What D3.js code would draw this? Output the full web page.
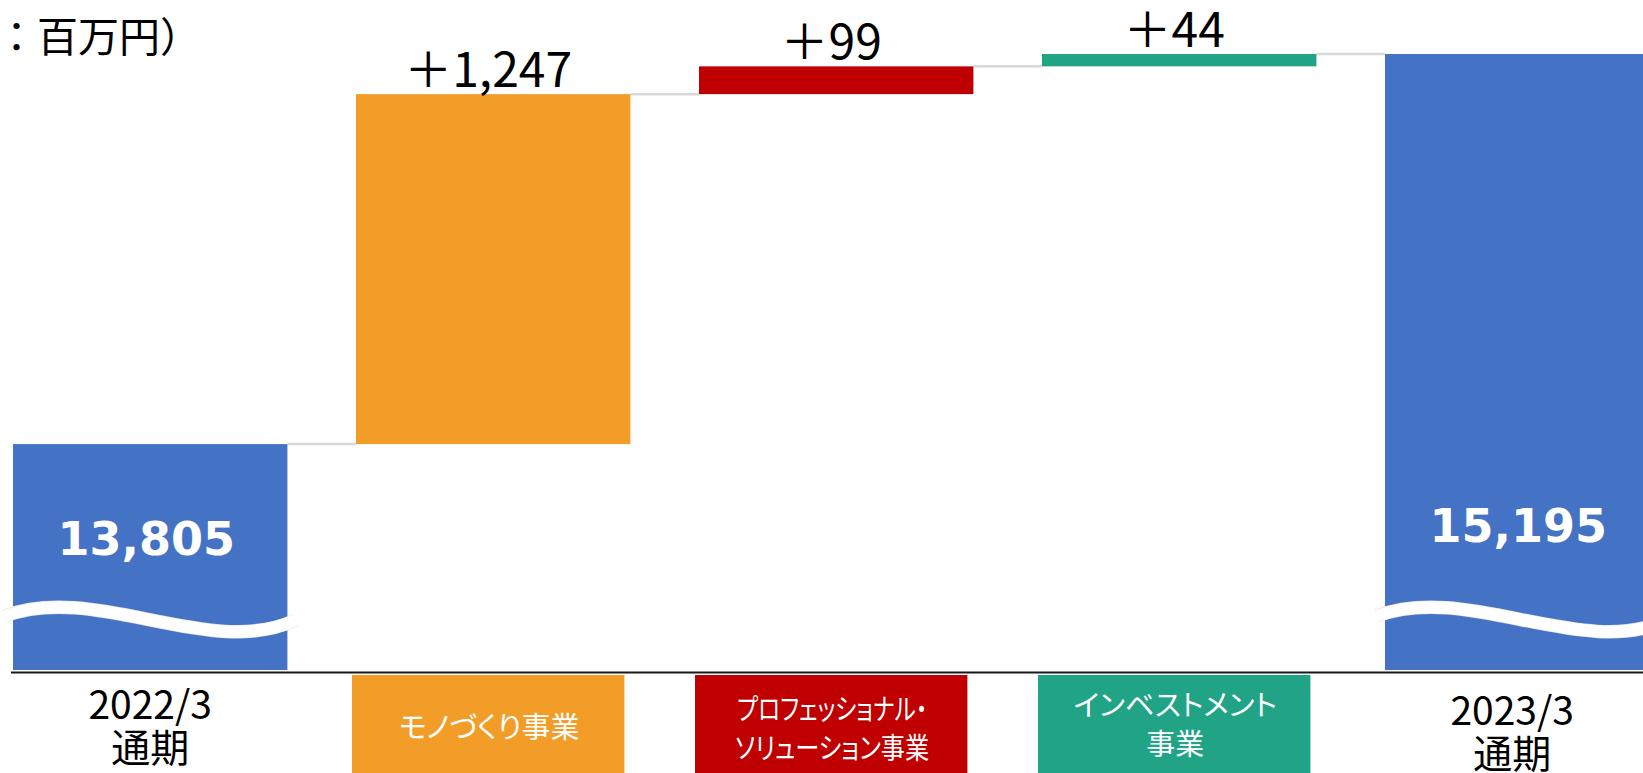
<!DOCTYPE html>
<html lang="ja">
<head>
<meta charset="utf-8">
<script src="https://cdn.jsdelivr.net/npm/d3@7"></script>
<style>
  html, body { margin: 0; padding: 0; background: #fff; overflow: hidden; }
  svg { display: block; }
  .jp { font-family: "Noto Sans CJK JP", "Noto Sans", sans-serif; }
</style>
</head>
<body>
<div id="chart"></div>
<script>
// Waterfall: 2022/3 full year -> 2023/3 full year, by segment (百万円)
const categories = ["2022/3 通期", "モノづくり事業", "プロフェッショナル・ソリューション事業", "インベストメント事業", "2023/3 通期"];
const labelLines = [["2022/3", "通期"], ["モノづくり事業"], ["プロフェッショナル・", "ソリューション事業"], ["インベストメント", "事業"], ["2023/3", "通期"]];
const kinds = ["total", "delta", "delta", "delta", "total"];
const values = [13805, 1247, 99, 44, 15195];
const valueLabels = ["13,805", "＋1,247", "＋99", "＋44", "15,195"];
const axisFloor = 13000;   // axis is broken (wave) below the totals
const unitLabel = "（単位：百万円）";

const colors = ["#4472C4", "#F29D28", "#C00000", "#21A385", "#4472C4"];

const W = 1643, H = 773;
const baseY = 670;       // bottom of the bars
const axisY = 672.5;

const svg = d3.select("#chart").append("svg")
  .attr("width", W).attr("height", H).attr("viewBox", `0 0 ${W} ${H}`);

const x = d3.scaleBand().domain(categories).range([-21.3, 1693.7])
  .paddingInner(0.2).paddingOuter(0.1);
const y = d3.scaleLinear().domain([axisFloor, 15195]).range([baseY, 54]);
const bw = x.bandwidth();

// running totals -> bar extents
let cum = 0;
const rows = categories.map((c, i) => {
  let lo, hi;
  if (kinds[i] === "total") { lo = axisFloor; hi = values[i]; cum = values[i]; }
  else { lo = cum; hi = cum + values[i]; cum = hi; }
  return { cat: c, lo, hi, i, kind: kinds[i] };
});

// connectors
const conn = svg.append("g");
rows.slice(0, -1).forEach((d, i) => {
  const yy = y(d.hi);
  conn.append("line")
    .attr("x1", x(d.cat) + bw).attr("x2", x(rows[i + 1].cat))
    .attr("y1", yy).attr("y2", yy)
    .attr("stroke", "#d9d9d9").attr("stroke-width", 2.5);
});

// bars
svg.append("g").selectAll("rect").data(rows).join("rect")
  .attr("x", d => x(d.cat)).attr("width", bw)
  .attr("y", d => y(d.hi)).attr("height", d => y(d.lo) - y(d.hi))
  .attr("fill", d => colors[d.i]);

// axis-break waves on the total bars
const waveY = y(axisFloor) - 55;
rows.filter(d => d.kind === "total").forEach(d => {
  const x0 = x(d.cat);
  const p = d3.path();
  p.moveTo(x0 - 0.03 * bw, waveY + 1);
  p.bezierCurveTo(x0 + 0.3 * bw, waveY - 33, x0 + 0.72 * bw, waveY + 45, x0 + 1.03 * bw, waveY + 5);
  svg.append("path").attr("d", p.toString()).attr("fill", "none")
    .attr("stroke", "#e6e6e6").attr("stroke-width", 13.5);
  svg.append("path").attr("d", p.toString()).attr("fill", "none")
    .attr("stroke", "#fff").attr("stroke-width", 12);
});

// total value labels (inside the bars)
const totalDy = { 0: 60, 4: 73 };
rows.filter(d => d.kind === "total").forEach(d => {
  svg.append("text")
    .attr("x", x(d.cat) + bw / 2 - 4).attr("y", waveY - totalDy[d.i])
    .attr("text-anchor", "middle")
    .attr("font-family", "DejaVu Sans, Verdana, sans-serif")
    .attr("font-weight", "bold").attr("font-size", 46)
    .attr("fill", "#fff")
    .text(valueLabels[d.i]);
});

// delta labels (above the bars)
rows.filter(d => d.kind === "delta").forEach(d => {
  svg.append("text").attr("class", "jp")
    .attr("x", x(d.cat) + bw / 2 - 5).attr("y", y(d.hi) - 7)
    .attr("text-anchor", "middle")
    .attr("font-size", 48).attr("fill", "#000")
    .text(valueLabels[d.i]);
});

// axis line
svg.append("line")
  .attr("x1", x(categories[0]) - 2).attr("x2", W)
  .attr("y1", axisY).attr("y2", axisY)
  .attr("stroke", "#1a1a1a").attr("stroke-width", 2);

// category labels
rows.forEach(d => {
  const cx = x(d.cat) + bw / 2;
  const lines = labelLines[d.i];
  if (d.kind === "total") {
    const off = d.i === 0 ? 0 : 6;
    const t = svg.append("text").attr("class", "jp")
      .attr("text-anchor", "middle").attr("font-size", 39).attr("fill", "#000");
    lines.forEach((ln, k) => {
      t.append("tspan").attr("x", cx - (d.i === 0 ? 0 : 10)).attr("y", 719 + off + k * 43).text(ln);
    });
  } else {
    svg.append("rect")
      .attr("x", x(d.cat) - 4).attr("width", bw - 2)
      .attr("y", axisY + 2.5).attr("height", H)
      .attr("fill", colors[d.i]);
    const t = svg.append("text").attr("class", "jp")
      .attr("text-anchor", "middle").attr("font-size", 29).attr("fill", "#fff")
      .style("font-feature-settings", '"palt"');
    const top = lines.length === 1 ? 738 : (d.i === 2 ? 720 : 716);
    lines.forEach((ln, k) => {
      const s = t.append("tspan").attr("x", cx - 4).attr("y", top + k * 39).text(ln);
      // the narrow UI face of the original: squeeze the long katakana lines
      if (d.i === 2) s.attr("textLength", k === 0 ? 190 : 194).attr("lengthAdjust", "spacingAndGlyphs");
    });
  }
});

// unit label, partially cut off at the left edge
svg.append("text").attr("class", "jp")
  .attr("x", 201).attr("y", 52)
  .attr("text-anchor", "end").attr("font-size", 41).attr("fill", "#000")
  .text(unitLabel);
</script>
</body>
</html>
